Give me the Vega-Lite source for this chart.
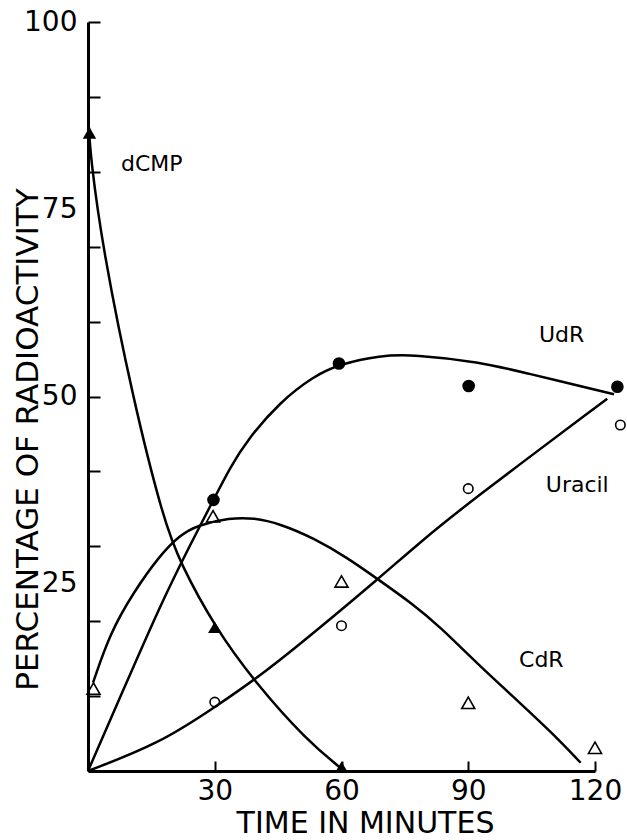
{
  "$schema": "https://vega.github.io/schema/vega-lite/v6.json",
  "width": 507,
  "height": 749,
  "autosize": {"type": "none"},
  "padding": {"left": 88, "top": 22, "right": 32, "bottom": 69},
  "background": "white",
  "config": {"view": {"stroke": null}, "font": "DejaVu Sans"},
  "datasets": {
    "curves": [
      {"series": "dCMP", "t": 0.2, "pct": 86.0},
      {"series": "dCMP", "t": 0.6, "pct": 82.0},
      {"series": "dCMP", "t": 3.5, "pct": 69.6},
      {"series": "dCMP", "t": 10.7, "pct": 49.5},
      {"series": "dCMP", "t": 17.9, "pct": 33.5},
      {"series": "dCMP", "t": 21.8, "pct": 27.8},
      {"series": "dCMP", "t": 30, "pct": 19.2},
      {"series": "dCMP", "t": 40, "pct": 11.5},
      {"series": "dCMP", "t": 51.8, "pct": 4.1},
      {"series": "dCMP", "t": 60, "pct": 0.3},

      {"series": "UdR", "t": 0, "pct": 0},
      {"series": "UdR", "t": 8.5, "pct": 11},
      {"series": "UdR", "t": 17, "pct": 22.0},
      {"series": "UdR", "t": 24, "pct": 30.0},
      {"series": "UdR", "t": 29.7, "pct": 36.2},
      {"series": "UdR", "t": 33.6, "pct": 40.5},
      {"series": "UdR", "t": 37.8, "pct": 44.3},
      {"series": "UdR", "t": 45.5, "pct": 49.3},
      {"series": "UdR", "t": 53.4, "pct": 52.7},
      {"series": "UdR", "t": 59.4, "pct": 54.3},
      {"series": "UdR", "t": 69.2, "pct": 55.5},
      {"series": "UdR", "t": 77.1, "pct": 55.6},
      {"series": "UdR", "t": 92.9, "pct": 54.6},
      {"series": "UdR", "t": 102.4, "pct": 53.3},
      {"series": "UdR", "t": 124.5, "pct": 50.3},

      {"series": "Uracil", "t": 0, "pct": 0},
      {"series": "Uracil", "t": 17, "pct": 3.7},
      {"series": "Uracil", "t": 30, "pct": 8.5},
      {"series": "Uracil", "t": 42, "pct": 13.2},
      {"series": "Uracil", "t": 54.2, "pct": 18.8},
      {"series": "Uracil", "t": 68.8, "pct": 25.7},
      {"series": "Uracil", "t": 78.7, "pct": 30.6},
      {"series": "Uracil", "t": 90, "pct": 35.8},
      {"series": "Uracil", "t": 122.9, "pct": 49.7},

      {"series": "CdR", "t": 1.2, "pct": 11.8},
      {"series": "CdR", "t": 5.2, "pct": 18.4},
      {"series": "CdR", "t": 10.7, "pct": 23.8},
      {"series": "CdR", "t": 17, "pct": 28.8},
      {"series": "CdR", "t": 21.8, "pct": 31.5},
      {"series": "CdR", "t": 25.8, "pct": 32.8},
      {"series": "CdR", "t": 33.6, "pct": 33.8},
      {"series": "CdR", "t": 39.2, "pct": 33.8},
      {"series": "CdR", "t": 45.5, "pct": 33.0},
      {"series": "CdR", "t": 53.4, "pct": 31.1},
      {"series": "CdR", "t": 61.3, "pct": 28.5},
      {"series": "CdR", "t": 68.6, "pct": 25.6},
      {"series": "CdR", "t": 77.1, "pct": 22.2},
      {"series": "CdR", "t": 83.4, "pct": 19.2},
      {"series": "CdR", "t": 92, "pct": 14.4},
      {"series": "CdR", "t": 102.4, "pct": 9.0},
      {"series": "CdR", "t": 110, "pct": 5.0},
      {"series": "CdR", "t": 116.6, "pct": 1.1}
    ],
    "measured": [
      {"series": "dCMP", "t": 0.35, "pct": 85.2},
      {"series": "dCMP", "t": 30, "pct": 19.2},
      {"series": "dCMP", "t": 60, "pct": 0.5},
      {"series": "UdR", "t": 29.7, "pct": 36.2},
      {"series": "UdR", "t": 59.4, "pct": 54.4},
      {"series": "UdR", "t": 90.1, "pct": 51.4},
      {"series": "UdR", "t": 125.3, "pct": 51.3},
      {"series": "Uracil", "t": 30, "pct": 9.2},
      {"series": "Uracil", "t": 60, "pct": 19.4},
      {"series": "Uracil", "t": 90, "pct": 37.7},
      {"series": "Uracil", "t": 126, "pct": 46.2},
      {"series": "CdR", "t": 1.3, "pct": 11.0},
      {"series": "CdR", "t": 29.6, "pct": 34.0},
      {"series": "CdR", "t": 60, "pct": 25.3},
      {"series": "CdR", "t": 90, "pct": 9.1},
      {"series": "CdR", "t": 120, "pct": 3.1}
    ],
    "names": [
      {"name": "dCMP", "t": 15.1, "pct": 81.1},
      {"name": "UdR", "t": 112.1, "pct": 58.2},
      {"name": "Uracil", "t": 115.8, "pct": 38.2},
      {"name": "CdR", "t": 107.3, "pct": 14.8}
    ]
  },
  "layer": [
    {
      "data": {"name": "curves"},
      "mark": {"type": "line", "interpolate": "basis", "stroke": "black", "strokeWidth": 2.5},
      "encoding": {
        "x": {
          "field": "t", "type": "quantitative",
          "scale": {"domain": [0, 120], "nice": false, "zero": false},
          "axis": {
            "values": [30, 60, 90, 120],
            "title": "TIME IN MINUTES",
            "grid": false,
            "domainColor": "black", "domainWidth": 3,
            "tickColor": "black", "tickWidth": 2, "tickSize": -10,
            "labelPadding": 16, "labelFlush": false, "labelOverlap": false,
            "labelFont": "DejaVu Sans", "labelFontSize": 28, "labelColor": "black",
            "titleFont": "DejaVu Sans", "titleFontSize": 30, "titleFontWeight": "normal", "titleColor": "black",
            "titleX": 277, "titleY": 52, "titleBaseline": "middle", "titleAlign": "center"
          }
        },
        "y": {
          "field": "pct", "type": "quantitative",
          "scale": {"domain": [0, 100], "nice": false},
          "axis": {
            "values": [10, 20, 25, 30, 40, 50, 60, 70, 75, 80, 90, 100],
            "labelExpr": "datum.value % 25 == 0 ? datum.label : ''",
            "tickOpacity": {"condition": {"test": "datum.value == 25 || datum.value == 75", "value": 0}, "value": 1},
            "title": "PERCENTAGE OF RADIOACTIVITY",
            "grid": false,
            "domainColor": "black", "domainWidth": 3,
            "tickColor": "black", "tickWidth": 2, "tickSize": -12,
            "labelPadding": 23, "labelFlush": false, "labelOverlap": false,
            "labelFont": "DejaVu Sans", "labelFontSize": 28, "labelColor": "black",
            "titleFont": "DejaVu Sans", "titleFontSize": 31, "titleFontWeight": "normal", "titleColor": "black",
            "titleAngle": 270, "titleX": -60, "titleY": 417, "titleBaseline": "middle", "titleAlign": "center"
          }
        },
        "detail": {"field": "series", "type": "nominal"}
      }
    },
    {
      "data": {"name": "measured"},
      "transform": [{"filter": "datum.series == 'dCMP'"}],
      "mark": {"type": "point", "shape": "triangle-up", "filled": true, "color": "black", "opacity": 1, "size": 180},
      "encoding": {"x": {"field": "t", "type": "quantitative"}, "y": {"field": "pct", "type": "quantitative"}}
    },
    {
      "data": {"name": "measured"},
      "transform": [{"filter": "datum.series == 'UdR'"}],
      "mark": {"type": "point", "shape": "circle", "filled": true, "color": "black", "opacity": 1, "size": 160},
      "encoding": {"x": {"field": "t", "type": "quantitative"}, "y": {"field": "pct", "type": "quantitative"}}
    },
    {
      "data": {"name": "measured"},
      "transform": [{"filter": "datum.series == 'Uracil'"}],
      "mark": {"type": "point", "shape": "circle", "filled": false, "stroke": "black", "strokeWidth": 1.6, "opacity": 1, "size": 90},
      "encoding": {"x": {"field": "t", "type": "quantitative"}, "y": {"field": "pct", "type": "quantitative"}}
    },
    {
      "data": {"name": "measured"},
      "transform": [{"filter": "datum.series == 'CdR'"}],
      "mark": {"type": "point", "shape": "triangle-up", "filled": false, "stroke": "black", "strokeWidth": 1.6, "opacity": 1, "size": 170},
      "encoding": {"x": {"field": "t", "type": "quantitative"}, "y": {"field": "pct", "type": "quantitative"}}
    },
    {
      "data": {"name": "names"},
      "mark": {"type": "text", "font": "DejaVu Sans", "fontSize": 22, "align": "center", "baseline": "middle", "color": "black"},
      "encoding": {
        "x": {"field": "t", "type": "quantitative"},
        "y": {"field": "pct", "type": "quantitative"},
        "text": {"field": "name", "type": "nominal"}
      }
    }
  ]
}
